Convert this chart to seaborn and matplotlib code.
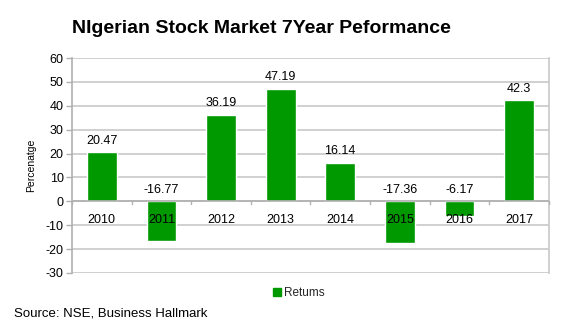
import matplotlib
matplotlib.use("Agg")
import matplotlib.pyplot as plt
import seaborn as sns
import pandas as pd
from matplotlib.patches import Patch

years = ["2010", "2011", "2012", "2013", "2014", "2015", "2016", "2017"]
returns = [20.47, -16.77, 36.19, 47.19, 16.14, -17.36, -6.17, 42.3]
y_ticks = [-30, -20, -10, 0, 10, 20, 30, 40, 50, 60]

sns.set_theme(style="white")
plt.rcParams["font.family"] = ["Liberation Sans", "DejaVu Sans"]
plt.rcParams["axes.unicode_minus"] = False

df = pd.DataFrame({"Year": years, "Returns": returns})

fig = plt.figure(figsize=(5.67, 3.30), dpi=100)
ax = fig.add_axes([0.127, 0.173, 0.841, 0.651])

green = "#009900"
grid_c = "#c8c8c8"
axis_c = "#b0b0b0"

ax.set_ylim(-30, 60)
ax.set_yticks(y_ticks)
ax.yaxis.grid(True, color=grid_c, linewidth=1.2, zorder=0)
ax.set_axisbelow(True)

sns.barplot(data=df, x="Year", y="Returns", color=green, width=0.5,
            saturation=1, ax=ax, zorder=3)

ax.set_xlim(-0.5, len(years) - 0.5)

# zero line acting as the category axis, with ticks between categories
ax.axhline(0, color=axis_c, linewidth=1.2, zorder=4)
for i in range(len(years) + 1):
    ax.plot([i - 0.5, i - 0.5], [0, -1.3], color=axis_c, linewidth=1.0,
            zorder=4, clip_on=False)

ax.set_xticks([])
ax.set_xlabel("")
for i, yr in enumerate(years):
    ax.text(i, -5.2, yr, ha="center", va="top", fontsize=9, color="black", zorder=5)

# value labels above each bar (above zero for negatives too)
for i, v in enumerate(returns):
    ax.text(i, max(v, 0) + 2.3, f"{v:g}", ha="center", va="bottom",
            fontsize=9, color="black", zorder=5)

for s in ["top", "bottom"]:
    ax.spines[s].set_visible(False)
ax.spines["left"].set_color(axis_c)
ax.spines["left"].set_linewidth(1.2)
ax.spines["right"].set_color(grid_c)
ax.spines["right"].set_linewidth(1.2)
ax.tick_params(axis="y", which="major", length=4, width=1.0, color=axis_c,
               labelsize=9, labelcolor="black", pad=2, left=True)

ax.set_ylabel("Percenatge", fontsize=7.5, color="black", labelpad=7)

fig.text(0.461, 0.915, "NIgerian Stock Market 7Year Peformance", ha="center",
         va="center", fontsize=14, fontweight="bold", color="black")

handles = [Patch(facecolor=green, edgecolor=green, label="Retums")]
fig.legend(handles=handles, loc="center", bbox_to_anchor=(0.527, 0.112),
           frameon=False, fontsize=8.5, handlelength=0.7, handleheight=0.7,
           handletextpad=0.3)

fig.text(0.025, 0.05, "Source: NSE, Business Hallmark", ha="left", va="center",
         fontsize=9.5, color="black")

fig.savefig("out.png", dpi=100)
